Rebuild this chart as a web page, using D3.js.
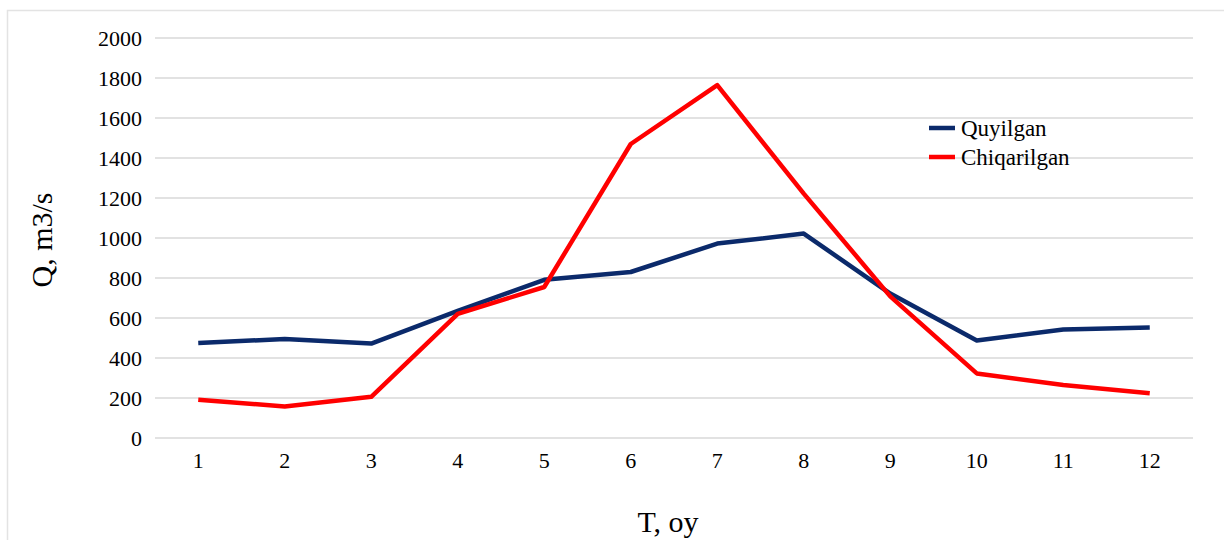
<!DOCTYPE html>
<html>
<head>
<meta charset="utf-8">
<script src="https://cdn.jsdelivr.net/npm/d3@7"></script>
<style>
  body { margin: 0; background: #fff; }
  svg text { font-family: "Liberation Serif", "Times New Roman", serif; fill: #000; }
</style>
</head>
<body>
<div id="chart"></div>
<script>
// months
var months = ["1", "2", "3", "4", "5", "6", "7", "8", "9", "10", "11", "12"];
// inflow / outflow, m3/s
var quyilgan = [475, 495, 472, 636, 791, 830, 972, 1022, 722, 488, 543, 552];
var chiqarilgan = [191, 158, 206, 621, 755, 1470, 1764, 1222, 708, 323, 265, 224];
var yTicks = [0, 200, 400, 600, 800, 1000, 1200, 1400, 1600, 1800, 2000];

var series = [
  { name: "Quyilgan", values: quyilgan, color: "#0b2a6b" },
  { name: "Chiqarilgan", values: chiqarilgan, color: "#ff0000" }
];

var serif = "Liberation Serif";
var width = 1224, height = 540;
var margin = { left: 155, right: 31, top: 38, bottom: 102 };

var svg = d3.select("#chart").append("svg")
  .attr("width", width)
  .attr("height", height)
  .attr("font-family", serif);

// chart area border
svg.append("rect")
  .attr("x", 7.5).attr("y", 10.5)
  .attr("width", width + 20).attr("height", height + 20)
  .attr("fill", "none")
  .attr("stroke", "#e3e3e3")
  .attr("stroke-width", 1.5);

var x = d3.scaleBand()
  .domain(months)
  .range([margin.left, width - margin.right]);

var y = d3.scaleLinear()
  .domain([0, 2000])
  .range([height - margin.bottom, margin.top]);

// gridlines
svg.append("g")
  .selectAll("line")
  .data(yTicks)
  .enter()
  .append("line")
  .attr("x1", margin.left)
  .attr("x2", width - margin.right)
  .attr("y1", function(d) { return y(d); })
  .attr("y2", function(d) { return y(d); })
  .attr("stroke", "#d9d9d9")
  .attr("stroke-width", 1.5);

// y axis labels
var yAxis = d3.axisLeft(y).tickValues(yTicks).tickFormat(d3.format("d")).tickSize(0).tickPadding(13);
var gy = svg.append("g")
  .attr("transform", "translate(" + margin.left + ",0)")
  .call(yAxis)
  .attr("font-family", serif)
  .attr("font-size", 22);
gy.select(".domain").remove();

// x axis labels
var xAxis = d3.axisBottom(x).tickSize(0).tickPadding(14);
var gx = svg.append("g")
  .attr("transform", "translate(0," + y(0) + ")")
  .call(xAxis)
  .attr("font-family", serif)
  .attr("font-size", 22);
gx.select(".domain").remove();

// lines
var line = d3.line()
  .x(function(d, i) { return x(months[i]) + x.bandwidth() / 2; })
  .y(function(d) { return y(d); });

svg.selectAll(".series")
  .data(series)
  .enter()
  .append("path")
  .attr("class", "series")
  .attr("d", function(d) { return line(d.values); })
  .attr("fill", "none")
  .attr("stroke", function(d) { return d.color; })
  .attr("stroke-width", 4.5)
  .attr("stroke-linejoin", "round");

// legend
var legend = svg.append("g").attr("transform", "translate(929,128)");
var item = legend.selectAll("g")
  .data(series)
  .enter()
  .append("g")
  .attr("transform", function(d, i) { return "translate(0," + (i * 29) + ")"; });
item.append("line")
  .attr("x1", 0).attr("x2", 26)
  .attr("stroke", function(d) { return d.color; })
  .attr("stroke-width", 4.5);
item.append("text")
  .attr("x", 32)
  .attr("y", 8)
  .attr("font-family", serif)
  .attr("font-size", 23)
  .text(function(d) { return d.name; });

// axis titles
svg.append("text")
  .attr("transform", "translate(52,240) rotate(-90)")
  .attr("text-anchor", "middle")
  .attr("font-size", 30)
  .text("Q, m3/s");

svg.append("text")
  .attr("x", 668)
  .attr("y", 532)
  .attr("text-anchor", "middle")
  .attr("font-size", 30)
  .text("T, oy");
</script>
</body>
</html>
